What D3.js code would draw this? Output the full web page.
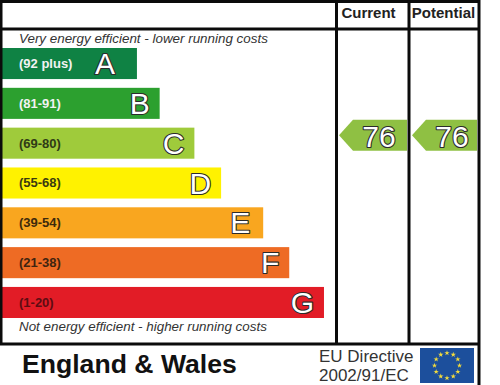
<!DOCTYPE html>
<html>
<head>
<meta charset="utf-8">
<script src="https://cdn.jsdelivr.net/npm/d3@7"></script>
<style>
body { margin: 0; background: #fff; }
svg { display: block; font-family: "Liberation Sans", Arial, sans-serif; }
.rule { stroke: #0b0b0b; stroke-width: 3; }
.letter { fill: #fff; stroke: #2b2b2b; stroke-width: 2.2; paint-order: stroke; stroke-linejoin: round; }
</style>
</head>
<body>
<svg id="svgEpc"></svg>
<script>
// DATA /////////////////////////////////////////////////////////////////////////////////
var bands = ["A", "B", "C", "D", "E", "F", "G"];
var ranges = ["(92 plus)", "(81-91)", "(69-80)", "(55-68)", "(39-54)", "(21-38)", "(1-20)"];
// bar length, percent of the rating panel
var barLengths = [40.4, 47.2, 57.6, 65.6, 78.2, 86, 96.4];
var bandColours = ["#0f8244", "#2ca02f", "#9fcb3b", "#fff200", "#f9a61f", "#ee6b24", "#e21c26"];
var rangeColours = ["#f2f2f2", "#f2f2f2", "#2f3a16", "#3a3a10", "#3d2a0c", "#3f2410", "#5e0c12"];
var columns = ["Current", "Potential"];
var columnBand = ["C", "C"];
var columnScores = [76, 76];
var euStarCount = d3.range(12);

// SETUP ////////////////////////////////////////////////////////////////////////////////
var WIDTH = 500, HEIGHT = 385;
var RIGHT = 479, HEADER_Y = 29, FOOTER_Y = 344;

var svg = d3.select("#svgEpc").attr("width", WIDTH).attr("height", HEIGHT);

var x = d3.scaleLinear().domain([0, 100]).range([2, 336]);
var y = d3.scaleBand().domain(bands).range([48, 318]).paddingInner(0.22);
var colX = d3.scaleOrdinal().domain(columns).range([[338, 408], [411, 478]]);
var colour = d3.scaleOrdinal().domain(bands).range(bandColours);
var rangeColour = d3.scaleOrdinal().domain(bands).range(rangeColours);

// gap between the letter and the end of its bar, A and E sit further in
function letterInset(d) {
    if (d === "A") { return 22 }
    return d === "E" ? 13 : 10;
}

// BARS /////////////////////////////////////////////////////////////////////////////////
var rows = svg.append("g")
    .selectAll("g")
    .data(bands)
    .enter().append("g")
    .attr("transform", function (d) { return "translate(0," + y(d) + ")"; });

rows.append("rect")
    .attr("x", x(0))
    .attr("height", y.bandwidth())
    .attr("width", function (d, i) { return x(barLengths[i]) - x(0); })
    .attr("fill", colour);

rows.append("text")
    .attr("x", 19)
    .attr("y", y.bandwidth() / 2 + 4.5)
    .attr("font-size", 13)
    .attr("font-weight", "bold")
    .attr("fill", rangeColour)
    .text(function (d, i) { return ranges[i]; });

rows.append("text")
    .attr("class", "letter")
    .attr("x", function (d, i) { return x(barLengths[i]) - letterInset(d); })
    .attr("y", y.bandwidth() / 2 + 10.5)
    .attr("text-anchor", "end")
    .attr("font-size", 30)
    .text(function (d) { return d; });

// captions above and below the bars
svg.append("text").attr("x", 19).attr("y", 43)
    .attr("font-size", 13.4).attr("font-style", "italic").attr("fill", "#333")
    .text("Very energy efficient - lower running costs");
svg.append("text").attr("x", 19).attr("y", 331)
    .attr("font-size", 13.4).attr("font-style", "italic").attr("fill", "#333")
    .text("Not energy efficient - higher running costs");

// ARROWS ///////////////////////////////////////////////////////////////////////////////
var arrowHeight = 31;
var arrowArea = d3.area().x(function (d) { return d[0]; }).y0(function (d) { return d[1]; }).y1(function (d) { return d[2]; });

var arrows = svg.append("g")
    .selectAll("g")
    .data(columns)
    .enter().append("g")
    .attr("transform", function (d, i) { return "translate(0," + (y(columnBand[i]) - 8) + ")"; });

arrows.append("path")
    .attr("fill", "#8fc043")
    .attr("d", function (d) {
        var c = colX(d), mid = arrowHeight / 2;
        return arrowArea([[c[0] + 1, mid, mid], [c[0] + 15, 0, arrowHeight], [c[1] - 1, 0, arrowHeight]]);
    });

arrows.append("text")
    .attr("class", "letter")
    .attr("x", function (d) { return colX(d)[0] + 41; })
    .attr("y", 27)
    .attr("text-anchor", "middle")
    .attr("font-size", 30)
    .text(function (d, i) { return columnScores[i]; });

// HEADERS //////////////////////////////////////////////////////////////////////////////
svg.append("g")
    .selectAll("text")
    .data(columns)
    .enter().append("text")
    .attr("x", function (d) { var c = colX(d); return (c[0] + c[1]) / 2 - (d === "Current" ? 4.5 : 1); })
    .attr("y", 18)
    .attr("text-anchor", "middle")
    .attr("font-size", 15)
    .attr("font-weight", "bold")
    .attr("fill", "#222")
    .text(function (d) { return d; });

// GRID LINES ///////////////////////////////////////////////////////////////////////////
var frame = svg.append("g");
[[0, RIGHT + 1, 1.5, 1.5], [0, RIGHT + 1, HEADER_Y, HEADER_Y], [0, RIGHT + 1, FOOTER_Y, FOOTER_Y],
 [1, 1, 0, FOOTER_Y], [336.5, 336.5, 0, FOOTER_Y], [409, 409, 0, FOOTER_Y], [RIGHT, RIGHT, 0, HEIGHT]]
    .forEach(function (l) {
        frame.append("line").attr("class", "rule")
            .attr("x1", l[0]).attr("x2", l[1]).attr("y1", l[2]).attr("y2", l[3]);
    });

// FOOTER ///////////////////////////////////////////////////////////////////////////////
svg.append("text").attr("x", 22).attr("y", 373)
    .attr("font-size", 26.6).attr("font-weight", "bold").attr("fill", "#111")
    .text("England & Wales");
svg.append("text").attr("x", 319).attr("y", 362)
    .attr("font-size", 17).attr("fill", "#333").text("EU Directive");
svg.append("text").attr("x", 319).attr("y", 381)
    .attr("font-size", 17).attr("fill", "#333").text("2002/91/EC");

// EU flag
var flag = svg.append("g").attr("transform", "translate(420,348)");
flag.append("rect").attr("width", 54).attr("height", 35).attr("fill", "#1c4f9c");
var starAngle = d3.scaleLinear().domain([0, 12]).range([0, 2 * Math.PI]);
flag.selectAll("path")
    .data(euStarCount)
    .enter().append("path")
    .attr("d", d3.symbol().type(d3.symbolStar).size(9))
    .attr("fill", "#f4dc3c")
    .attr("transform", function (d) {
        return "translate(" + (27 + 12.5 * Math.sin(starAngle(d))) + "," + (17.5 - 12.5 * Math.cos(starAngle(d))) + ")";
    });
</script>
</body>
</html>
